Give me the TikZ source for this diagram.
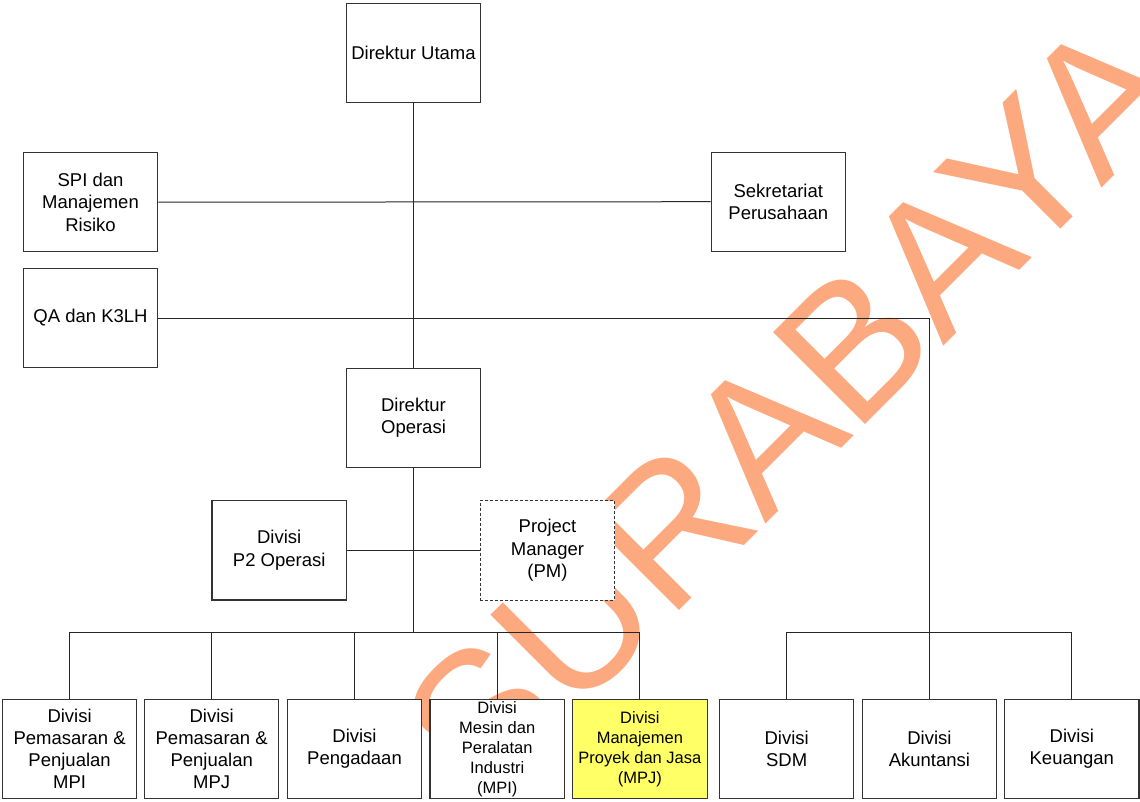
\documentclass[tikz,border=0pt]{standalone}
\usepackage{fontspec}
\setmainfont{Liberation Sans}
\definecolor{wmorange}{RGB}{252,169,128}
\definecolor{mpjyellow}{RGB}{255,255,102}
\pgfdeclarelayer{bg}
\pgfdeclarelayer{wm}
\pgfdeclarelayer{lines}
\pgfsetlayers{bg,wm,lines,main}
\begin{document}
\begin{tikzpicture}[x=1pt,y=-1pt,
  box/.style={draw=black!80, line width=1.1pt, fill=white, minimum width=134.4pt,
    minimum height=99.3pt, inner sep=0pt, align=center,
    font=\fontsize{18.5}{22.2}\selectfont},
  smallbox/.style={box, font=\fontsize{16.5}{20}\selectfont},
  dashbox/.style={box, line width=0.9pt, dash pattern=on 3pt off 2pt},
  conn/.style={draw=black!85, line width=1pt},
  wmtext/.style={rotate=45, anchor=base, text=wmorange, inner sep=0pt,
    font=\fontsize{189}{189}\selectfont}
]
\useasboundingbox (0,0) rectangle (1140,801);
\begin{pgfonlayer}{bg}
\fill[white] (0,0) rectangle (1140,801);
\end{pgfonlayer}

% boxes
\node[box] (du)  at (413.5,52.8)  {Direktur Utama};
\node[box] (spi) at (90.5,202.2)  {SPI dan\\Manajemen\\Risiko};
\node[box] (sek) at (778.3,201.7) {Sekretariat\\Perusahaan};
\node[box] (qa)  at (90.5,318)    {QA dan K3LH};
\node[box] (dop) at (413.5,417.8) {Direktur\\Operasi};
\node[box] (p2)  at (279.2,550.3) {Divisi\\P2 Operasi};
\node[dashbox] (pm) at (547.5,550.3) {Project\\Manager\\(PM)};

\node[box] (b1) at (69.6,748.8)  {Divisi\\Pemasaran \&\\Penjualan\\MPI};
\node[box] (b2) at (211.7,748.8) {Divisi\\Pemasaran \&\\Penjualan\\MPJ};
\node[box] (b3) at (354.5,748.8) {Divisi\\Pengadaan};
\node[smallbox] (b4) at (497.2,748.8) {Divisi\\Mesin dan\\Peralatan\\Industri\\(MPI)};
\node[smallbox, fill=mpjyellow] (b5) at (639.9,748.8) {Divisi\\Manajemen\\Proyek dan Jasa\\(MPJ)};
\node[box] (b6) at (786.7,748.8)  {Divisi\\SDM};
\node[box] (b7) at (929.4,748.8)  {Divisi\\Akuntansi};
\node[box] (b8) at (1071.8,748.8) {Divisi\\Keuangan};

% watermark
\begin{pgfonlayer}{wm}
\begin{scope}
\clip (0,0) rectangle (1140,801);
\node[wmtext] (wm) at (837,453) {SURABAYA};
\end{scope}
\end{pgfonlayer}

% connectors
\begin{pgfonlayer}{lines}
\coordinate (jL) at (413.5,632.7);
\coordinate (jR) at (929.4,632.7);
\draw[conn] (du.south) -- (dop.north);
\draw[conn] (spi.east) -- (sek.west);
\draw[conn] (qa.east) -| (b7.north);
\draw[conn] (dop.south) -- (jL);
\draw[conn] (p2.east) -- (pm.west);
\draw[conn] (b1.north) |- (jL) -| (b5.north);
\draw[conn] (b2.north) -- (b2.north |- jL);
\draw[conn] (b3.north) -- (b3.north |- jL);
\draw[conn] (b4.north) -- (b4.north |- jL);
\draw[conn] (b6.north) |- (jR) -| (b8.north);
\end{pgfonlayer}
\end{tikzpicture}
\end{document}
